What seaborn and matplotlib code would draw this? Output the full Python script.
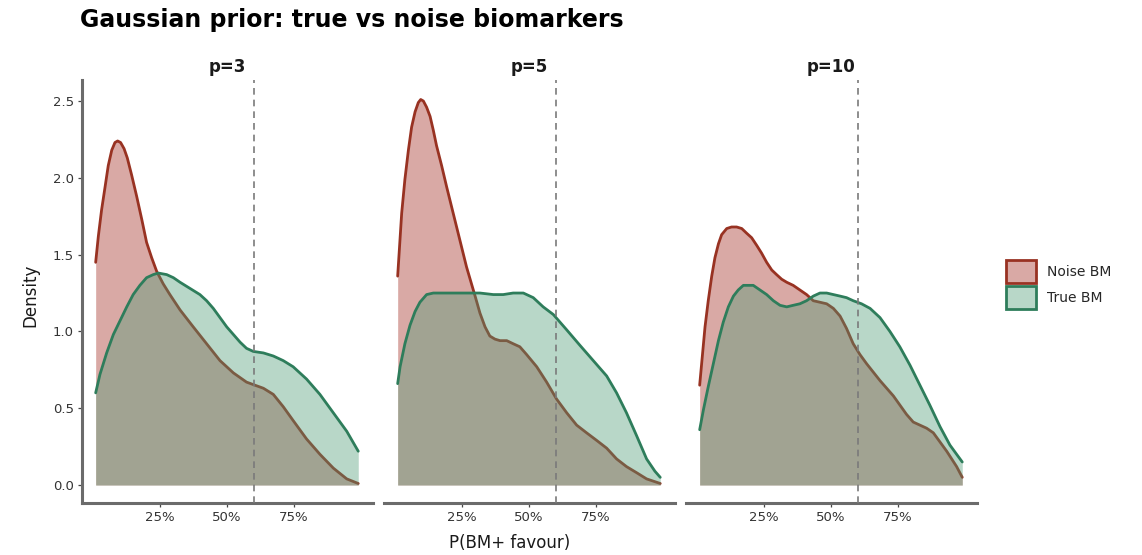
import matplotlib
matplotlib.use("Agg")
import matplotlib.pyplot as plt
from matplotlib.patches import Patch
import pandas as pd
import seaborn as sns

sns.set_style("white")
plt.rcParams["font.family"] = ["DejaVu Sans"]

panels = ["p=3", "p=5", "p=10"]
groups = ["Noise BM", "True BM"]
threshold = 0.6
x_ticks = [0.25, 0.50, 0.75]
x_tick_labels = ["25%", "50%", "75%"]
y_ticks = [0.0, 0.5, 1.0, 1.5, 2.0, 2.5]

# density estimates of P(BM+ favour), one curve per biomarker type and panel
noise_x_p3 = [0.01, 0.020, 0.032, 0.045, 0.057, 0.070, 0.082, 0.092, 0.103, 0.116, 0.128, 0.144,
              0.163, 0.182, 0.200, 0.219, 0.238, 0.262, 0.287, 0.325, 0.374, 0.424, 0.474, 0.524,
              0.573, 0.636, 0.673, 0.710, 0.747, 0.797, 0.847, 0.897, 0.947, 0.99]
noise_y_p3 = [1.45, 1.62, 1.79, 1.94, 2.08, 2.18, 2.23, 2.24, 2.23, 2.19, 2.13, 2.02,
              1.88, 1.73, 1.58, 1.48, 1.39, 1.31, 1.24, 1.14, 1.03, 0.92, 0.81, 0.73,
              0.67, 0.63, 0.59, 0.51, 0.42, 0.30, 0.20, 0.11, 0.04, 0.01]
true_x_p3 = [0.01, 0.026, 0.051, 0.076, 0.101, 0.126, 0.150, 0.175, 0.200, 0.225, 0.244, 0.275,
             0.300, 0.325, 0.362, 0.399, 0.424, 0.449, 0.474, 0.499, 0.524, 0.549, 0.573, 0.598,
             0.636, 0.673, 0.710, 0.747, 0.797, 0.847, 0.897, 0.947, 0.99]
true_y_p3 = [0.60, 0.72, 0.86, 0.98, 1.07, 1.16, 1.24, 1.30, 1.35, 1.37, 1.38, 1.37,
             1.35, 1.32, 1.28, 1.24, 1.20, 1.15, 1.09, 1.03, 0.98, 0.93, 0.89, 0.87,
             0.86, 0.84, 0.81, 0.77, 0.69, 0.59, 0.47, 0.35, 0.22]

noise_x_p5 = [0.01, 0.025, 0.037, 0.050, 0.062, 0.075, 0.087, 0.096, 0.106, 0.118, 0.131, 0.143,
              0.155, 0.174, 0.193, 0.230, 0.267, 0.299, 0.317, 0.336, 0.354, 0.373, 0.392, 0.417,
              0.441, 0.466, 0.491, 0.529, 0.566, 0.603, 0.641, 0.678, 0.715, 0.753, 0.790, 0.827,
              0.864, 0.902, 0.939, 0.99]
noise_y_p5 = [1.36, 1.77, 1.99, 2.18, 2.33, 2.43, 2.49, 2.51, 2.50, 2.46, 2.40, 2.31,
              2.21, 2.08, 1.94, 1.68, 1.42, 1.23, 1.12, 1.03, 0.97, 0.95, 0.94, 0.94,
              0.92, 0.90, 0.85, 0.77, 0.67, 0.56, 0.47, 0.39, 0.34, 0.29, 0.24, 0.17,
              0.12, 0.08, 0.04, 0.01]
true_x_p5 = [0.01, 0.019, 0.037, 0.056, 0.075, 0.093, 0.118, 0.143, 0.193, 0.255, 0.317, 0.367,
             0.404, 0.441, 0.479, 0.516, 0.553, 0.591, 0.641, 0.690, 0.740, 0.790, 0.827, 0.864,
             0.902, 0.939, 0.970, 0.99]
true_y_p5 = [0.66, 0.77, 0.92, 1.04, 1.13, 1.19, 1.24, 1.25, 1.25, 1.25, 1.25, 1.24,
             1.24, 1.25, 1.25, 1.22, 1.16, 1.11, 1.01, 0.91, 0.81, 0.71, 0.60, 0.47,
             0.32, 0.17, 0.09, 0.05]

noise_x_p10 = [0.01, 0.030, 0.042, 0.055, 0.067, 0.080, 0.092, 0.111, 0.129, 0.148, 0.167, 0.185,
               0.204, 0.223, 0.241, 0.260, 0.279, 0.297, 0.316, 0.335, 0.359, 0.384, 0.409, 0.434,
               0.459, 0.484, 0.509, 0.534, 0.558, 0.583, 0.608, 0.633, 0.683, 0.733, 0.782, 0.807,
               0.832, 0.857, 0.882, 0.907, 0.932, 0.969, 0.99]
noise_y_p10 = [0.65, 1.03, 1.20, 1.36, 1.48, 1.57, 1.63, 1.67, 1.68, 1.68, 1.67, 1.64,
               1.61, 1.56, 1.51, 1.45, 1.40, 1.37, 1.34, 1.32, 1.30, 1.27, 1.24, 1.20,
               1.19, 1.18, 1.15, 1.10, 1.02, 0.92, 0.85, 0.79, 0.68, 0.58, 0.46, 0.41,
               0.39, 0.37, 0.34, 0.28, 0.22, 0.12, 0.05]
true_x_p10 = [0.01, 0.024, 0.042, 0.061, 0.080, 0.098, 0.117, 0.136, 0.154, 0.173, 0.192, 0.210,
              0.235, 0.260, 0.285, 0.310, 0.335, 0.359, 0.384, 0.409, 0.434, 0.459, 0.484, 0.509,
              0.534, 0.558, 0.583, 0.614, 0.646, 0.683, 0.720, 0.757, 0.795, 0.832, 0.869, 0.907,
              0.944, 0.969, 0.99]
true_y_p10 = [0.36, 0.49, 0.64, 0.79, 0.94, 1.06, 1.16, 1.23, 1.27, 1.30, 1.30, 1.30,
              1.27, 1.24, 1.20, 1.17, 1.16, 1.17, 1.18, 1.20, 1.23, 1.25, 1.25, 1.24,
              1.23, 1.22, 1.20, 1.18, 1.15, 1.09, 1.00, 0.90, 0.78, 0.65, 0.52, 0.38,
              0.26, 0.20, 0.15]

curves = {
    ("p=3", "Noise BM"): (noise_x_p3, noise_y_p3),
    ("p=3", "True BM"): (true_x_p3, true_y_p3),
    ("p=5", "Noise BM"): (noise_x_p5, noise_y_p5),
    ("p=5", "True BM"): (true_x_p5, true_y_p5),
    ("p=10", "Noise BM"): (noise_x_p10, noise_y_p10),
    ("p=10", "True BM"): (true_x_p10, true_y_p10),
}
frames = []
for (panel, group), (xs, ys) in curves.items():
    frames.append(pd.DataFrame({"panel": panel, "group": group, "x": xs, "density": ys}))
df = pd.concat(frames, ignore_index=True)

line_colors = {"Noise BM": "#983222", "True BM": "#2E7D5B"}
fill_colors = {"Noise BM": "#A02A1E", "True BM": "#4F9B76"}
fill_alpha = 0.4
spine_color = "#6b6b6b"
text_color = "#333333"

W, H = 1142, 555
fig = plt.figure(figsize=(W / 100, H / 100), dpi=100)
lefts = [82, 384, 686]
ax_w, ax_top, ax_bottom = 291, 80, 503

for i, panel in enumerate(panels):
    ax = fig.add_axes([lefts[i] / W, (H - ax_bottom) / H, ax_w / W, (ax_bottom - ax_top) / H])
    sub = df[df["panel"] == panel]
    # each group: area then outline, so the later area tints the earlier outline
    for k, group in enumerate(groups):
        g = sub[sub["group"] == group]
        ax.fill_between(g["x"], 0, g["density"], color=fill_colors[group],
                        alpha=fill_alpha, linewidth=0, zorder=2 + 2 * k)
        sns.lineplot(data=g, x="x", y="density", color=line_colors[group], lw=2.0,
                     estimator=None, sort=False, ax=ax, zorder=3 + 2 * k,
                     solid_joinstyle="round", solid_capstyle="round")
    ax.axvline(threshold, color="#7a7a7a", lw=1.2, ls=(0, (4, 3)), zorder=8)

    ax.set_xlim(-0.041, 1.045)
    ax.set_ylim(-0.117, 2.637)
    ax.set_xticks(x_ticks)
    ax.set_xticklabels(x_tick_labels)
    ax.set_xlabel("")
    ax.set_ylabel("")
    for s in ["top", "right"]:
        ax.spines[s].set_visible(False)
    ax.spines["bottom"].set_color(spine_color)
    ax.spines["bottom"].set_linewidth(2.2)
    ax.tick_params(axis="x", length=3, width=0.9, color="#444444", labelsize=9.5,
                   labelcolor=text_color, pad=3, bottom=True)
    if i == 0:
        ax.spines["left"].set_color(spine_color)
        ax.spines["left"].set_linewidth(2.2)
        ax.set_yticks(y_ticks)
        ax.set_yticklabels([f"{v:.1f}" for v in y_ticks])
        ax.tick_params(axis="y", length=3, width=0.9, color="#444444", labelsize=9.5,
                       labelcolor=text_color, pad=3, left=True)
    else:
        ax.spines["left"].set_visible(False)
        ax.set_yticks([])
    ax.set_title(panel, fontsize=12, fontweight="bold", color="#1a1a1a", pad=6)

fig.text(80 / W, 1 - 20 / H, "Gaussian prior: true vs noise biomarkers", fontsize=17,
         fontweight="bold", ha="left", va="center", color="black")
fig.text(510 / W, 1 - 543 / H, "P(BM+ favour)", fontsize=12, ha="center", va="center",
         color="#1a1a1a")
fig.text(30 / W, 1 - 295 / H, "Density", fontsize=12, ha="center", va="center",
         rotation=90, color="#1a1a1a")

handles = [Patch(facecolor=(*matplotlib.colors.to_rgb(fill_colors[g]), fill_alpha),
                 edgecolor=line_colors[g], linewidth=2, label=g) for g in groups]
fig.legend(handles=handles, loc="upper left", bbox_to_anchor=(1000 / W, 1 - 254 / H),
           frameon=False, fontsize=10, handlelength=2.2, handleheight=2.2,
           labelspacing=0.2, handletextpad=0.8, borderaxespad=0)

fig.savefig("out.png", dpi=100)
